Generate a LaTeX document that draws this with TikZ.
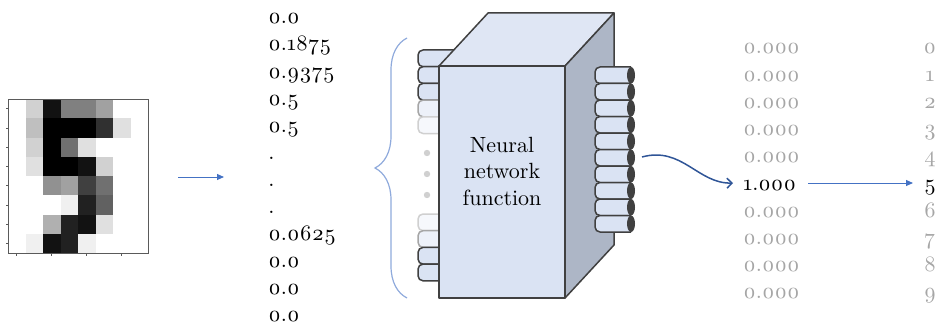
\documentclass[tikz,border=0pt]{standalone}
\usepackage{tikz}
\usetikzlibrary{arrows.meta,decorations.pathreplacing,positioning}

% old style figures for all the numbers
\font\geofont="[lmroman10-regular]:+onum" at 11pt

\definecolor{boxfront}{HTML}{DAE3F3}
\definecolor{boxtop}{HTML}{DFE6F4}
\definecolor{boxside}{HTML}{ADB6C6}
\definecolor{edgegray}{HTML}{404040}
\definecolor{framegray}{HTML}{5A5A5A}
\definecolor{arrowblue}{HTML}{4472C4}
\definecolor{curveblue}{HTML}{2F5597}
\definecolor{bracecol}{HTML}{8FAADC}
\definecolor{fadetext}{HTML}{A6A6A6}
\definecolor{cylfade}{HTML}{EDF1F9}
\definecolor{cylfaint}{HTML}{F6F8FC}
\definecolor{dotgray}{HTML}{D0D0D0}

\tikzset{
    lbl/.style={anchor=base west,inner sep=0pt,font=\geofont},
    digitlbl/.style={anchor=base,inner sep=0pt,font=\geofont},
    boxedge/.style={draw=edgegray,line width=0.75pt,line join=round},
    incyl/.style={draw=edgegray,fill=boxfront,line width=0.75pt},
    incylfade/.style={draw=fadetext,fill=cylfade,line width=0.75pt},
    incylfaint/.style={draw=dotgray,fill=cylfaint,line width=0.75pt},
    outcyl/.style={draw=edgegray,fill=boxfront,line width=0.75pt},
    thinarrow/.style={draw=arrowblue,line width=0.5pt,-{Triangle[length=3.5pt,width=3pt]}},
    curvearrow/.style={draw=curveblue,line width=0.75pt,-{Straight Barb[length=2.5pt,width=5pt]}},
    tick/.style={draw=framegray,line width=0.3pt}
}

\begin{document}
\begin{tikzpicture}[x=0.5pt,y=-0.5pt]
    \useasboundingbox (0,0) rectangle (940,326);

    % 8x8 pixel image
    \foreach \r/\vals in {0/{0,0.1875,0.9375,0.5,0.5,0.375,0,0},
                          1/{0,0.25,1,1,1,0.8125,0.125,0},
                          2/{0,0.1875,1,0.5625,0.125,0,0,0},
                          3/{0,0.125,1,1,0.9375,0.1875,0,0},
                          4/{0,0,0.4375,0.375,0.75,0.5625,0,0},
                          5/{0,0,0,0.0625,0.875,0.625,0,0},
                          6/{0,0,0.3125,0.875,0.9375,0.125,0,0},
                          7/{0,0.0625,0.9375,0.875,0.0625,0,0,0}}
        \foreach \v [count=\c from 0] in \vals {
            \pgfmathtruncatemacro\tone{\v*100}
            \fill[black!\tone] (8+17.5*\c,99+19.25*\r) rectangle ++(17.5,19.25);
        }
    \node[draw=framegray,line width=0.4pt,minimum width=70pt,minimum height=77pt,inner sep=0pt] (digit) at (78,176) {};
    \foreach \r in {0,...,7}
        \draw[tick] (8,108.6+19.25*\r) -- ++(-2.5,0);
    \foreach \c in {0,2,4,6}
        \draw[tick] (16.75+17.5*\c,253) -- ++(0,2.5);

    \coordinate (imgout) at (178,177);
    \coordinate (vecin) at (224,177);
    \draw[thinarrow] (imgout) -- (vecin);

    % input vector
    \foreach \t [count=\i from 0] in {0.0,0.1875,0.9375,0.5,0.5,.,.,.,0.0625,0.0,0.0,0.0}
        \node[lbl] (x\i) at (268,24+27*\i) {\t};

    \coordinate (bracebot) at (407,298);
    \coordinate (bracetop) at (407,38);
    \draw[bracecol,line width=0.6pt,decorate,decoration={brace,amplitude=16pt}] (bracebot) -- (bracetop);

    % input cylinders behind the box
    \foreach \y/\s in {50/incyl,66.7/incyl,83.4/incyl,100.1/incylfade,116.8/incylfaint,
                       214/incylfaint,230.7/incylfade,247.4/incyl,264.1/incyl}
        \draw[\s,rounded corners=2.5] (462,\y) -- (418,\y) -- (418,\y+16.7) -- (462,\y+16.7);
    \foreach \y in {153,174,195}
        \fill[dotgray] (427,\y) circle (3.2);

    % the box
    \draw[boxedge,fill=boxtop] (439,66) -- (488,13) -- (614,13) -- (565,66) -- cycle;
    \draw[boxedge,fill=boxside] (565,66) -- (614,13) -- (614,245) -- (565,298) -- cycle;
    \node[boxedge,fill=boxfront,minimum width=63pt,minimum height=116pt,inner sep=0pt] (net) at (502,182) {};
    \node[font={\geofont\baselineskip=13.25pt},align=center,inner sep=0pt] (netlabel) at (502,171) {Neural\\network\\function};

    % output cylinders
    \foreach \k in {0,...,9} {
        \draw[outcyl,rounded corners=2.5] (631,67+16.5*\k) -- (595,67+16.5*\k) -- (595,83.5+16.5*\k) -- (631,83.5+16.5*\k);
        \fill[edgegray] (631,75.25+16.5*\k) ellipse (4 and 8.25);
    }

    % output vector and classes
    \foreach \v/\col [count=\i from 0] in {0.000/fadetext,0.000/fadetext,0.000/fadetext,0.000/fadetext,0.000/fadetext,
                                          1.000/black,0.000/fadetext,0.000/fadetext,0.000/fadetext,0.000/fadetext} {
        \node[lbl,text=\col] (y\i) at (743,54+27.2*\i) {\v};
        \node[digitlbl,text=\col] (d\i) at (930,54+27.2*\i) {\i};
    }

    \coordinate (netout) at (642,157);
    \coordinate (outin) at (733,183);
    \draw[curvearrow] (netout) .. controls (682,146) and (698,184) .. (outin);

    \coordinate (selA) at (808,183);
    \coordinate (selB) at (913,183);
    \draw[thinarrow] (selA) -- (selB);
\end{tikzpicture}
\end{document}
